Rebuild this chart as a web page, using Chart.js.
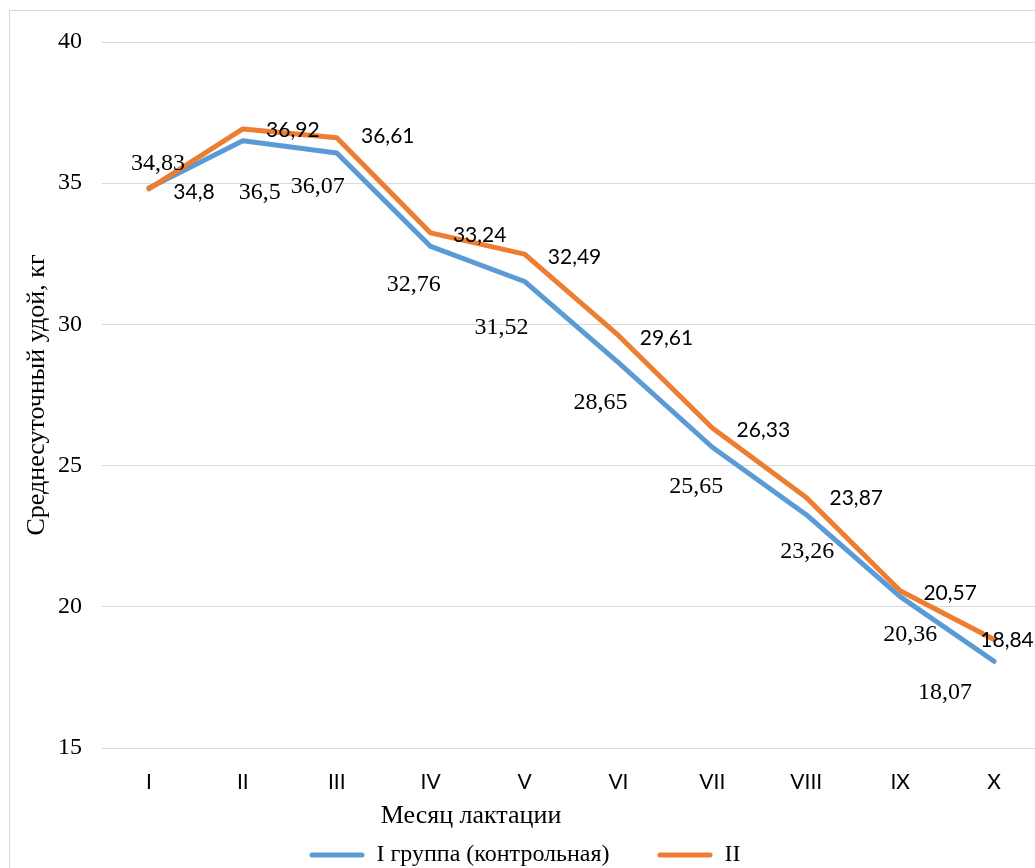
<!DOCTYPE html>
<html><head><meta charset="utf-8">
<script src="https://cdn.jsdelivr.net/npm/chart.js@4.4.1/dist/chart.umd.min.js"></script>
<style>
html,body{margin:0;padding:0;overflow:hidden;background:#fff;width:1035px;height:868px}
#wrap{position:absolute;left:0;top:0;width:1050px;height:880px}
</style>
</head><body><div id="wrap"><canvas id="c" width="1050" height="880"></canvas></div>
<script>
const months = ['I','II','III','IV','V','VI','VII','VIII','IX','X'];
const group1 = [34.83, 36.5, 36.07, 32.76, 31.52, 28.65, 25.65, 23.26, 20.36, 18.07];
const group2 = [34.8, 36.92, 36.61, 33.24, 32.49, 29.61, 26.33, 23.87, 20.57, 18.84];
const seriesNames = ['I группа (контрольная)', 'II'];
const yAxisTitle = 'Среднесуточный удой, кг';
const xAxisTitle = 'Месяц лактации';
const yMin = 15, yMax = 40, yStep = 5;

const BLUE = '#5B9BD5', ORANGE = '#ED7D31';
const SERIF = '"Liberation Serif", "Times New Roman", serif';
const SANS = 'Lato, "Liberation Sans", sans-serif';

// label placement (offsets from each point), per series
const labelOffsets = [
  [[9,-24],[17,52],[-19,34],[-17,38],[-23,46],[-18,40],[-16,39],[1,37],[10,38],[-49,31]],
  [[45,3],[50,1],[51,-1],[49,2],[50,3],[48,3],[51,2],[50,1],[50,3],[13,1]]
];
const labelFonts = ['24px ' + SERIF, '21px ' + SANS];

const frame = {
  id: 'frame',
  beforeDraw(chart) {
    const ctx = chart.ctx;
    ctx.save();
    ctx.fillStyle = '#fff';
    ctx.fillRect(0, 0, chart.width, chart.height);
    ctx.strokeStyle = '#d9d9d9';
    ctx.lineWidth = 1;
    ctx.strokeRect(9.5, 10.5, chart.width + 50, chart.height + 50);
    ctx.restore();
  },
  afterDraw(chart) {
    const ctx = chart.ctx;
    ctx.save();
    ctx.fillStyle = '#000';
    ctx.font = '26px ' + SERIF;
    ctx.textAlign = 'center';
    ctx.textBaseline = 'middle';
    ctx.fillText(xAxisTitle, 471, 816);
    ctx.restore();
  }
};

const valueLabels = {
  id: 'valueLabels',
  afterDatasetsDraw(chart) {
    const ctx = chart.ctx;
    chart.data.datasets.forEach((ds, i) => {
      const meta = chart.getDatasetMeta(i);
      ctx.save();
      ctx.font = labelFonts[i];
      ctx.fillStyle = '#000';
      ctx.textAlign = 'center';
      ctx.textBaseline = 'middle';
      meta.data.forEach((pt, j) => {
        const txt = String(ds.data[j]).replace('.', ',');
        const o = labelOffsets[i][j];
        ctx.fillText(txt, pt.x + o[0], pt.y + o[1]);
      });
      ctx.restore();
    });
  }
};

new Chart(document.getElementById('c'), {
  type: 'line',
  data: {
    labels: months,
    datasets: [
      { label: seriesNames[0], data: group1, borderColor: BLUE, backgroundColor: BLUE,
        borderWidth: 5, pointRadius: 0, tension: 0, order: 1,
        borderJoinStyle: 'round', borderCapStyle: 'round' },
      { label: seriesNames[1], data: group2, borderColor: ORANGE, backgroundColor: ORANGE,
        borderWidth: 5, pointRadius: 0, tension: 0, order: 0,
        borderJoinStyle: 'round', borderCapStyle: 'round' }
    ]
  },
  options: {
    responsive: false,
    animation: false,
    devicePixelRatio: 1,
    layout: { padding: { left: 9, right: 9, top: 42, bottom: 3 } },
    plugins: {
      tooltip: { enabled: false },
      legend: {
        position: 'bottom',
        labels: {
          font: { family: SERIF, size: 24 },
          color: '#000',
          boxWidth: 55,
          boxHeight: 5,
          padding: 48,
          useBorderRadius: true,
          borderRadius: 2.5,
          generateLabels(chart) {
            return chart.data.datasets.map((ds, i) => ({
              text: ds.label, fillStyle: ds.borderColor, strokeStyle: ds.borderColor,
              lineWidth: 0, hidden: false, datasetIndex: i, fontColor: '#000', borderRadius: 2.5
            }));
          }
        }
      }
    },
    scales: {
      x: {
        offset: true,
        grid: { display: false },
        border: { display: false },
        ticks: { font: { family: SANS, size: 21 }, color: '#000', padding: 14, maxRotation: 0, autoSkip: false },
        afterFit(scale) { scale.height = 47; }
      },
      y: {
        min: yMin, max: yMax,
        ticks: { stepSize: yStep, font: { family: SERIF, size: 24 }, color: '#000', padding: 20 },
        grid: { color: '#d9d9d9', lineWidth: 1, drawTicks: false },
        border: { display: false },
        title: { display: true, text: yAxisTitle, font: { family: SERIF, size: 26 }, color: '#000', padding: { top: 13, bottom: 0 } },
        afterFit(scale) { scale.width = 93; }
      }
    }
  },
  plugins: [frame, valueLabels]
});
</script>
</body></html>
